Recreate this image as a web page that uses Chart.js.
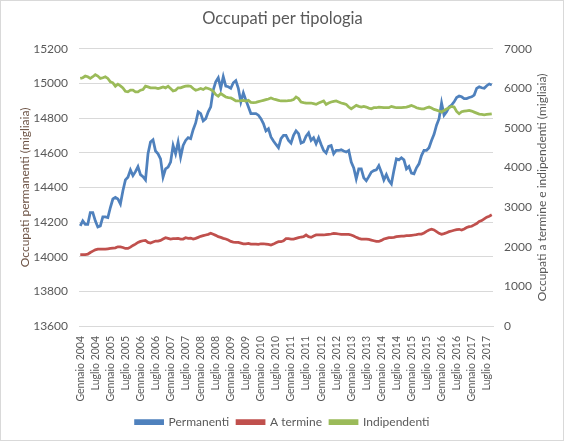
<!DOCTYPE html>
<html>
<head>
<meta charset="utf-8">
<script src="https://cdn.jsdelivr.net/npm/chart.js@4.4.1/dist/chart.umd.min.js"></script>
<style>
  html, body { margin: 0; padding: 0; background: #fff; }
  canvas { display: block; }
</style>
</head>
<body>
<canvas id="myChart" width="565" height="442"></canvas>
<script>
// mesi: da Gennaio 2004 a Settembre 2017
const mesi = ["Gennaio", "Febbraio", "Marzo", "Aprile", "Maggio", "Giugno",
  "Luglio", "Agosto", "Settembre", "Ottobre", "Novembre", "Dicembre"];
const anni = [2004, 2005, 2006, 2007, 2008, 2009, 2010, 2011, 2012, 2013, 2014, 2015, 2016, 2017];

// occupati permanenti (migliaia) - asse sinistro
const permanenti = [
  14178, 14207, 14187, 14187, 14255, 14255, 14207, 14172, 14178, 14230, 14230, 14226,
  14284, 14333, 14342, 14333, 14304, 14381, 14443, 14459, 14501, 14468, 14491, 14520,
  14474, 14462, 14443, 14594, 14662, 14675, 14610, 14594, 14565, 14459, 14507, 14517,
  14546, 14642, 14594, 14662, 14575, 14642, 14671, 14687, 14681, 14733, 14772, 14836,
  14826, 14784, 14797, 14836, 14865, 14962, 15010, 15033, 14972, 15039, 14985, 14981,
  14972, 15004, 15016, 14972, 14894, 14946, 14904, 14865, 14826, 14826, 14826, 14817,
  14797, 14768, 14726, 14739, 14691, 14668, 14648, 14629, 14681, 14700, 14700, 14671,
  14656, 14700, 14726, 14710, 14656, 14662, 14695, 14714, 14671, 14687, 14652, 14687,
  14648, 14613, 14598, 14637, 14642, 14594, 14613, 14613, 14617, 14610, 14604, 14613,
  14546, 14513, 14449, 14507, 14507, 14455, 14439, 14462, 14488, 14497, 14501, 14526,
  14488, 14443, 14474, 14439, 14420, 14497, 14565, 14559, 14571, 14559, 14507, 14521,
  14482, 14478, 14513, 14536, 14584, 14613, 14613, 14629, 14671, 14706, 14759, 14797,
  14888, 14817, 14836, 14865, 14875, 14894, 14919, 14927, 14923, 14913, 14913, 14919,
  14923, 14933, 14972, 14981, 14975, 14972, 14987, 14997, 14991
];

// occupati a termine (migliaia) - asse destro
const aTermine = [
  1805, 1805, 1805, 1813, 1856, 1890, 1924, 1941, 1941, 1941, 1941, 1949,
  1958, 1966, 1975, 2000, 2000, 1983, 1958, 1958, 1992, 2034, 2068, 2111,
  2136, 2153, 2162, 2111, 2094, 2119, 2145, 2145, 2162, 2196, 2230, 2213,
  2196, 2204, 2204, 2213, 2196, 2196, 2230, 2213, 2221, 2196, 2213, 2238,
  2264, 2281, 2298, 2315, 2340, 2315, 2289, 2255, 2238, 2213, 2196, 2170,
  2136, 2119, 2111, 2111, 2094, 2077, 2077, 2085, 2068, 2068, 2068, 2060,
  2077, 2077, 2068, 2060, 2043, 2068, 2102, 2128, 2128, 2153, 2204, 2204,
  2196, 2196, 2213, 2230, 2247, 2255, 2298, 2255, 2238, 2272, 2298, 2298,
  2298, 2298, 2306, 2315, 2323, 2340, 2332, 2323, 2315, 2315, 2315, 2315,
  2298, 2272, 2238, 2213, 2196, 2196, 2196, 2187, 2170, 2153, 2136, 2136,
  2162, 2196, 2213, 2230, 2230, 2238, 2255, 2264, 2272, 2272, 2281, 2281,
  2289, 2298, 2306, 2323, 2323, 2349, 2391, 2425, 2442, 2425, 2383, 2340,
  2315, 2332, 2357, 2383, 2400, 2417, 2434, 2442, 2425, 2451, 2485, 2510,
  2519, 2553, 2587, 2638, 2663, 2706, 2748, 2774, 2808
];

// occupati indipendenti (migliaia) - asse destro
const indipendenti = [
  6252, 6269, 6311, 6294, 6252, 6294, 6345, 6311, 6252, 6269, 6294, 6252,
  6167, 6141, 6056, 6107, 6065, 6014, 5929, 5912, 5954, 5954, 5912, 5912,
  5954, 5971, 6056, 6039, 6014, 6014, 6014, 5997, 6014, 6039, 6014, 6056,
  5997, 5937, 5954, 6014, 6014, 6039, 6056, 6065, 6056, 5997, 5954, 5971,
  5997, 5971, 6014, 5997, 5971, 5929, 5844, 5801, 5869, 5827, 5784, 5767,
  5759, 5725, 5682, 5682, 5691, 5699, 5682, 5699, 5648, 5640, 5648, 5665,
  5682, 5699, 5716, 5733, 5759, 5733, 5716, 5699, 5682, 5682, 5682, 5691,
  5699, 5716, 5784, 5742, 5657, 5640, 5631, 5631, 5631, 5614, 5597, 5631,
  5657, 5682, 5597, 5631, 5657, 5674, 5682, 5657, 5631, 5614, 5597, 5529,
  5486, 5529, 5571, 5546, 5529, 5546, 5529, 5503, 5486, 5512, 5512, 5529,
  5520, 5512, 5512, 5512, 5546, 5529, 5512, 5512, 5512, 5520, 5529, 5546,
  5571, 5546, 5512, 5495, 5486, 5486, 5512, 5529, 5503, 5469, 5452, 5427,
  5401, 5444, 5478, 5512, 5546, 5529, 5418, 5359, 5410, 5427, 5435, 5444,
  5427, 5401, 5376, 5350, 5342, 5333, 5342, 5350, 5359
];

const labels = [];
anni.forEach(a => mesi.forEach(m => labels.push(m + " " + a)));
labels.length = permanenti.length;

const grigio = "#595959";
const font = "Lato, 'Open Sans', sans-serif";

// sfondo bianco, bordo e titolo asse destro (scritto dal basso verso l'alto)
const extras = {
  id: "extras",
  beforeDraw(chart) {
    const c = chart.ctx;
    c.save();
    c.fillStyle = "#fff";
    c.fillRect(0, 0, chart.width, chart.height);
    c.restore();
  },
  afterDraw(chart) {
    const c = chart.ctx;
    const area = chart.chartArea;
    c.save();
    c.strokeStyle = "#d9d9d9";
    c.lineWidth = 1;
    c.strokeRect(0.5, 0.5, chart.width - 2, chart.height - 2);
    c.translate(chart.width - 23, (area.top + area.bottom) / 2);
    c.rotate(-Math.PI / 2);
    c.fillStyle = grigio;
    c.font = "12px " + font;
    c.textAlign = "center";
    c.textBaseline = "middle";
    c.fillText("Occupati a termine e indipendenti (migliaia)", 0, 0);
    c.restore();
  }
};

new Chart(document.getElementById("myChart"), {
  type: "line",
  data: {
    labels: labels,
    datasets: [
      {
        label: "Permanenti",
        data: permanenti,
        yAxisID: "y",
        borderColor: "#4F81BD",
        backgroundColor: "#4F81BD",
        borderWidth: 2.75,
        pointRadius: 0,
        order: 3,
      },
      {
        label: "A termine",
        data: aTermine,
        yAxisID: "y1",
        borderColor: "#C0504D",
        backgroundColor: "#C0504D",
        borderWidth: 2.75,
        pointRadius: 0,
        order: 2,
      },
      {
        label: "Indipendenti",
        data: indipendenti,
        yAxisID: "y1",
        borderColor: "#9BBB59",
        backgroundColor: "#9BBB59",
        borderWidth: 2.75,
        pointRadius: 0,
        order: 1,
      },
    ],
  },
  options: {
    responsive: false,
    animation: false,
    layout: { padding: { left: 0, right: 0, top: 0, bottom: 4 } },
    plugins: {
      title: {
        display: true,
        text: "Occupati per tipologia",
        color: grigio,
        font: { family: font, size: 16.5, weight: "normal" },
        padding: { top: 9, bottom: 20 },
      },
      legend: {
        position: "bottom",
        labels: {
          color: grigio,
          font: { family: font, size: 12 },
          boxWidth: 27,
          boxHeight: 3,
          padding: 8,
          sort: (a, b) => a.datasetIndex - b.datasetIndex,
        },
      },
      tooltip: { enabled: false },
    },
    scales: {
      x: {
        offset: true,
        grid: { display: false },
        border: { display: true, color: "#d9d9d9" },
        ticks: {
          autoSkip: false,
          maxRotation: 90,
          minRotation: 90,
          padding: 2,
          color: grigio,
          font: { family: font, size: 10.5 },
          callback: function (val, i) {
            return i % 6 === 0 ? this.getLabelForValue(val) : null;
          },
        },
        afterFit: (s) => { s.height = 82; },
      },
      y: {
        position: "left",
        min: 13600,
        max: 15200,
        ticks: {
          stepSize: 200,
          padding: 11,
          color: grigio,
          font: { family: font, size: 12 },
          format: { useGrouping: false },
        },
        grid: { color: "#d9d9d9", drawTicks: false },
        border: { display: false },
        title: {
          display: true,
          text: "Occupati permanenti (migliaia)",
          color: "#6e5446",
          font: { family: font, size: 12 },
          padding: { top: 18, bottom: 0 },
        },
        afterFit: (s) => { s.width = 79; },
      },
      y1: {
        position: "right",
        min: 0,
        max: 7000,
        ticks: {
          stepSize: 1000,
          padding: 11,
          color: grigio,
          font: { family: font, size: 12 },
          format: { useGrouping: false },
        },
        grid: { display: false, drawTicks: false },
        border: { display: false },
        afterFit: (s) => { s.width = 72; },
      },
    },
  },
  plugins: [extras],
});
</script>
</body>
</html>
